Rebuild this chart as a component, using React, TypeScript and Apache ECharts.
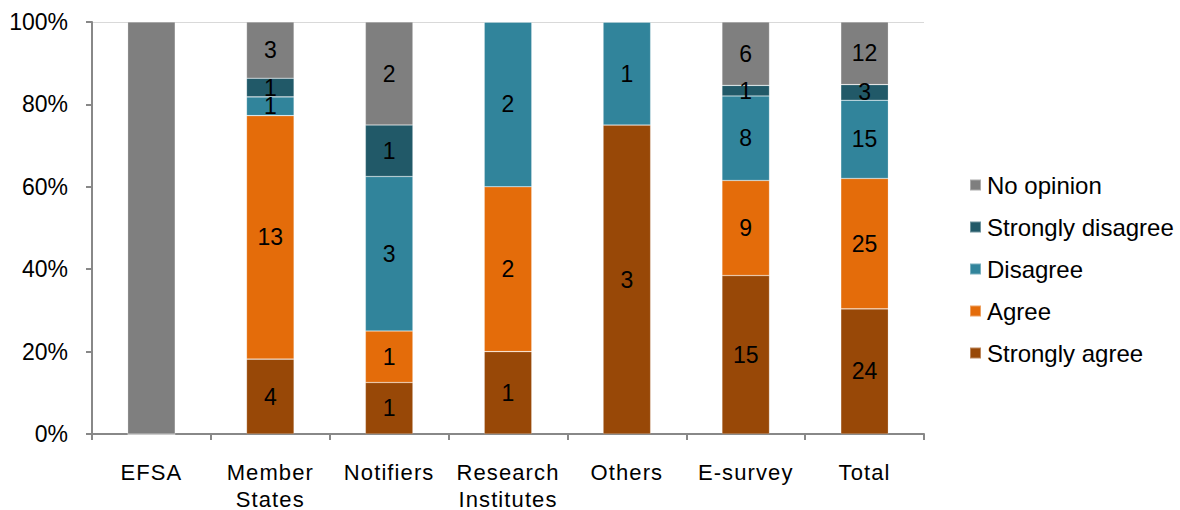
import React, { useEffect, useRef } from "react";
import * as echarts from "echarts";

const categories = ["EFSA", "Member\nStates", "Notifiers", "Research\nInstitutes", "Others", "E-survey", "Total"];

const stronglyAgree = [0, 4, 1, 1, 3, 15, 24];
const agree = [0, 13, 1, 2, 0, 9, 25];
const disagree = [0, 1, 3, 2, 1, 8, 15];
const stronglyDisagree = [0, 1, 1, 0, 0, 1, 3];
const noOpinion = [1, 3, 2, 0, 0, 6, 12];

const yTicks = [0, 20, 40, 60, 80, 100];

// category index / series name pairs whose count is not printed on the bar
const unlabeled: [number, string][] = [[0, "No opinion"]];

const seriesDefs = [
  { name: "Strongly agree", values: stronglyAgree, color: "#984807" },
  { name: "Agree", values: agree, color: "#E46C0A" },
  { name: "Disagree", values: disagree, color: "#31849B" },
  { name: "Strongly disagree", values: stronglyDisagree, color: "#215968" },
  { name: "No opinion", values: noOpinion, color: "#7F7F7F" },
];

const legendOrder = ["No opinion", "Strongly disagree", "Disagree", "Agree", "Strongly agree"];

const FONT = "'Liberation Sans', Arial, sans-serif";

// category labels (the only 22px text) are set a little looser than the rest
const spacingCss = `#survey-chart text[style*="22px"] { letter-spacing: 1.1px; }`;

export default function App() {
  const ref = useRef<HTMLDivElement>(null);

  useEffect(() => {
    if (!ref.current) return;
    const chart = echarts.init(ref.current, undefined, { renderer: "svg" });

    const totals = categories.map((_, i) =>
      seriesDefs.reduce((s, d) => s + d.values[i], 0)
    );

    const series = seriesDefs.map((d) => ({
      name: d.name,
      type: "bar",
      stack: "all",
      barWidth: "40%",
      itemStyle: { color: d.color, borderColor: "rgba(255,255,255,0.35)", borderWidth: 0.6 },
      label: {
        show: true,
        position: "inside",
        color: "#000",
        fontFamily: FONT,
        fontSize: 23,
        formatter: (p: any) => (p.data.count > 0 ? String(p.data.count) : ""),
      },
      data: d.values.map((v, i) => {
        const hide = unlabeled.some(([ci, n]) => ci === i && n === d.name);
        return {
          value: totals[i] ? (v / totals[i]) * 100 : 0,
          count: v,
          ...(hide ? { label: { show: false } } : {}),
        };
      }),
    }));

    chart.setOption({
      animation: false,
      backgroundColor: "#fff",
      textStyle: { fontFamily: FONT },
      grid: { left: 92, right: 256, top: 22, bottom: 76, outerBoundsMode: "none", containLabel: false },
      legend: {
        data: legendOrder,
        orient: "vertical",
        left: 964,
        top: 168,
        icon: "rect",
        itemWidth: 11,
        itemHeight: 11,
        itemGap: 18,
        textStyle: { fontFamily: FONT, fontSize: 24, color: "#000", lineHeight: 24, padding: [0, 0, 0, 1] },
      },
      xAxis: {
        type: "category",
        data: categories,
        axisLine: { lineStyle: { color: "#888", width: 2 } },
        axisTick: { show: true, length: 6, lineStyle: { color: "#888", width: 2 } },
        axisLabel: {
          color: "#000",
          fontFamily: FONT,
          fontSize: 22,
          lineHeight: 27,
          margin: 25,
          interval: 0,
        },
      },
      yAxis: {
        type: "value",
        min: 0,
        max: 100,
        interval: 20,
        axisLine: { show: true, lineStyle: { color: "#888", width: 2 } },
        axisTick: { show: true, length: 6, lineStyle: { color: "#888", width: 2 } },
        axisLabel: {
          color: "#000",
          fontFamily: FONT,
          fontSize: 23,
          margin: 24,
          formatter: (v: number) => (yTicks.includes(v) ? `${v}%` : ""),
        },
        splitLine: {
          show: true,
          lineStyle: { color: ["none", "none", "none", "none", "none", "#d9d9d9"], width: 1 },
        },
      },
      series,
    });

    return () => chart.dispose();
  }, []);

  return (
    <>
      <style>{spacingCss}</style>
      <div
        id="survey-chart"
        ref={ref}
        style={{ position: "fixed", left: 0, top: 0, width: 1180, height: 510 }}
      />
    </>
  );
}
